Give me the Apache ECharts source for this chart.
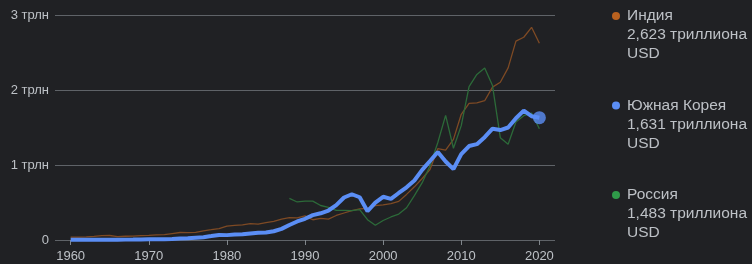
<!DOCTYPE html>
<html>
<head>
<meta charset="utf-8">
<script src="https://cdn.jsdelivr.net/npm/echarts@6/dist/echarts.min.js"></script>
<style>
  html, body { margin: 0; padding: 0; background: #202124; }
  #chart { width: 752px; height: 264px; }
</style>
</head>
<body>
<div id="chart"></div>
<script>
// ВВП, трлн USD
const years = []
for (let y = 1960; y <= 2020; y++) years.push(y)
const decadeTicks = [1960, 1970, 1980, 1990, 2000, 2010, 2020]
const yTicks = [0, 1, 2, 3]

const india = [
  0.037, 0.039, 0.042, 0.048, 0.057, 0.060, 0.046, 0.050, 0.053, 0.058,
  0.062, 0.067, 0.072, 0.086, 0.100, 0.099, 0.103, 0.122, 0.137, 0.153,
  0.186, 0.194, 0.201, 0.218, 0.212, 0.233, 0.249, 0.279, 0.297, 0.296,
  0.321, 0.270, 0.288, 0.279, 0.327, 0.360, 0.393, 0.416, 0.421, 0.459,
  0.468, 0.485, 0.515, 0.608, 0.709, 0.820, 0.940, 1.217, 1.199, 1.342,
  1.676, 1.823, 1.828, 1.857, 2.039, 2.104, 2.295, 2.652, 2.703, 2.836,
  2.623
]
const korea = [
  0.004, 0.002, 0.003, 0.004, 0.003, 0.003, 0.004, 0.005, 0.006, 0.008,
  0.009, 0.010, 0.011, 0.014, 0.020, 0.022, 0.030, 0.038, 0.052, 0.067,
  0.065, 0.073, 0.078, 0.088, 0.098, 0.101, 0.117, 0.148, 0.200, 0.247,
  0.283, 0.331, 0.356, 0.393, 0.464, 0.567, 0.610, 0.570, 0.383, 0.498,
  0.576, 0.548, 0.627, 0.703, 0.793, 0.935, 1.053, 1.173, 1.047, 0.944,
  1.144, 1.253, 1.278, 1.371, 1.484, 1.466, 1.500, 1.623, 1.725, 1.651,
  1.631
]
// Россия: данные с 1988 года
const russiaYears = []
for (let y = 1988; y <= 2020; y++) russiaYears.push(y)
const russia = [
  0.555, 0.507, 0.517, 0.518, 0.460, 0.435, 0.395, 0.396, 0.392, 0.405,
  0.271, 0.196, 0.260, 0.307, 0.346, 0.430, 0.591, 0.764, 0.990, 1.300,
  1.661, 1.223, 1.525, 2.046, 2.208, 2.293, 2.059, 1.364, 1.277, 1.574,
  1.657, 1.693, 1.483
]

const names = ['Индия', 'Южная Корея', 'Россия']
const lastValues = ['2,623 триллиона', '1,631 триллиона', '1,483 триллиона']
const dotColors = ['#b8611f', '#5b8ef5', '#2f9a49']
const lineColors = ['#7e4a24', '#5b8ef5', '#2c6a39']

const chart = echarts.init(document.getElementById('chart'))

const pairs = (xs, vs) => vs.map((v, i) => [xs[i], v])

const legendItems = []
names.forEach((n, i) => {
  const mid = 16 + i * 89.5
  legendItems.push({
    type: 'circle',
    shape: { cx: 616, cy: mid, r: 4 },
    style: { fill: dotColors[i] }
  })
  legendItems.push({
    type: 'text',
    left: 627,
    top: mid - 9.5,
    style: {
      text: n + '\n' + lastValues[i] + '\nUSD',
      fill: '#bdc1c6',
      font: '15.5px Arial, "Liberation Sans", sans-serif',
      lineHeight: 19
    }
  })
})

chart.setOption({
  backgroundColor: '#202124',
  animation: false,
  grid: { left: 55, right: 197, top: 15, bottom: 24 },
  xAxis: {
    type: 'value',
    min: 1958,
    max: 2022,
    axisLine: { show: false },
    splitLine: { show: false },
    axisTick: {
      show: true,
      customValues: decadeTicks,
      length: 5,
      lineStyle: { color: '#80868b' }
    },
    axisLabel: {
      customValues: decadeTicks,
      formatter: v => String(v),
      color: '#bdc1c6',
      fontSize: 13,
      fontFamily: 'Arial, "Liberation Sans", sans-serif',
      margin: 10
    }
  },
  yAxis: {
    type: 'value',
    min: 0,
    max: 3,
    interval: 1,
    axisLine: { show: false },
    axisTick: { show: false },
    splitLine: { lineStyle: { color: '#5f6368', width: 1 } },
    axisLabel: {
      color: '#bdc1c6',
      fontSize: 13,
      fontFamily: 'Arial, "Liberation Sans", sans-serif',
      margin: 6,
      formatter: v => (v === 0 ? '0' : v + ' трлн')
    }
  },
  series: [
    {
      name: names[0],
      type: 'line',
      data: pairs(years, india),
      showSymbol: false,
      lineStyle: { color: lineColors[0], width: 1.3 },
      z: 2
    },
    {
      name: names[2],
      type: 'line',
      data: pairs(russiaYears, russia),
      showSymbol: false,
      lineStyle: { color: lineColors[2], width: 1.3 },
      z: 3
    },
    {
      name: names[1],
      type: 'line',
      data: pairs(years, korea),
      showSymbol: false,
      lineStyle: { color: lineColors[1], width: 4 },
      z: 4
    },
    {
      type: 'scatter',
      data: [[years[years.length - 1], korea[korea.length - 1]]],
      symbolSize: 13,
      itemStyle: { color: lineColors[1] },
      z: 5
    }
  ],
  graphic: legendItems
})
</script>
</body>
</html>
